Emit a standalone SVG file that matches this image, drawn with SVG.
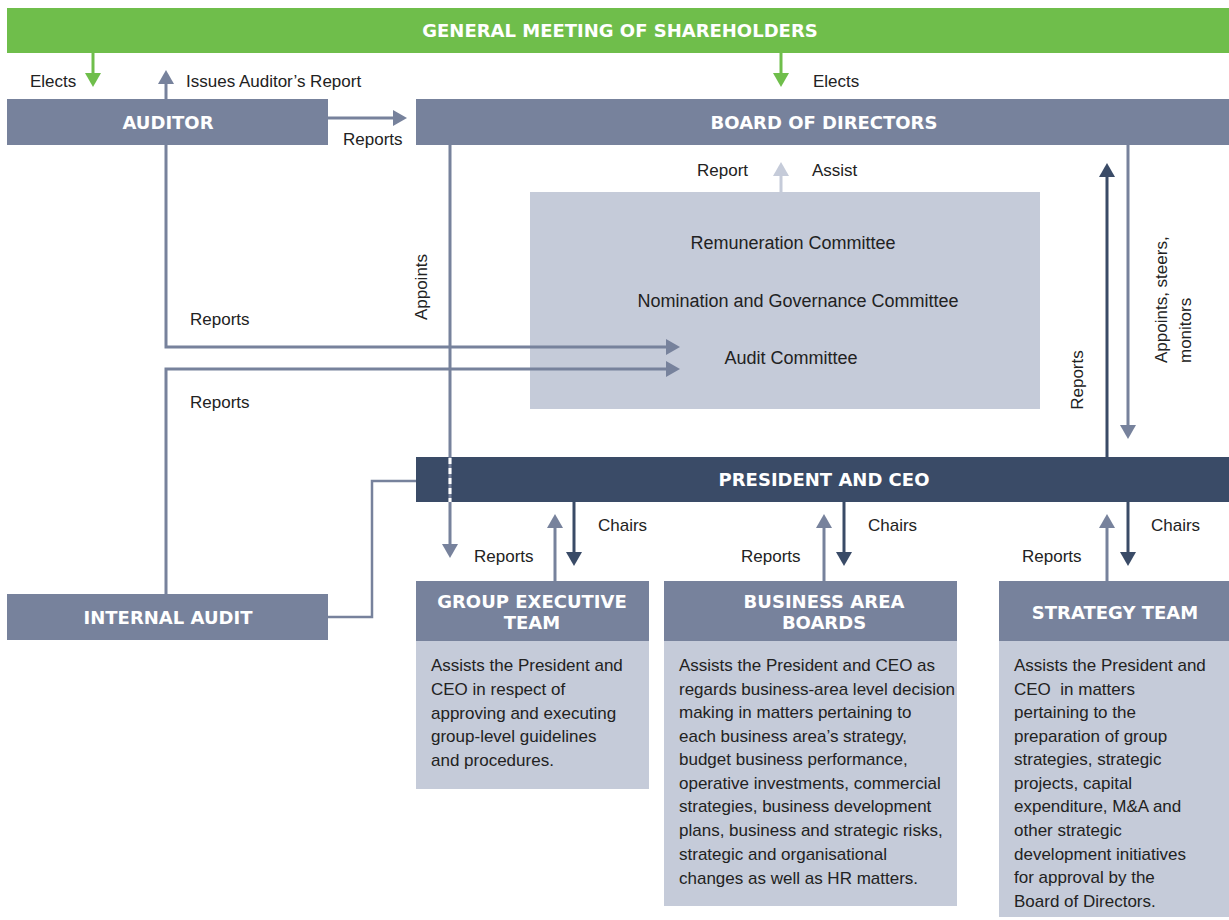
<svg xmlns="http://www.w3.org/2000/svg" width="1229" height="920" viewBox="0 0 1229 920">
<style>
.hd{font-family:"DejaVu Sans",sans-serif;font-weight:bold;font-size:18px;fill:#fff;text-anchor:middle}
.tx{font-family:"Liberation Sans",Arial,sans-serif;font-size:17px;fill:#222}
.cm{font-size:18px}
.mid{text-anchor:middle}
.slate{fill:#77829c}
.navy{fill:#3a4b67}
.light{fill:#c5cbd9}
.green{fill:#6fbe4b}
.c{fill:none;stroke-width:3}
</style>
<defs>
<marker id="mg" viewBox="0 0 14 16" markerWidth="14" markerHeight="16" refX="6" refY="8" orient="auto" markerUnits="userSpaceOnUse"><path d="M0,0 L14,8 L0,16 z" fill="#6fbe4b"/></marker>
<marker id="ms" viewBox="0 0 14 16" markerWidth="14" markerHeight="16" refX="6" refY="8" orient="auto" markerUnits="userSpaceOnUse"><path d="M0,0 L14,8 L0,16 z" fill="#77829c"/></marker>
<marker id="mn" viewBox="0 0 14 16" markerWidth="14" markerHeight="16" refX="6" refY="8" orient="auto" markerUnits="userSpaceOnUse"><path d="M0,0 L14,8 L0,16 z" fill="#3a4b67"/></marker>
<marker id="ml" viewBox="0 0 14 16" markerWidth="14" markerHeight="16" refX="6" refY="8" orient="auto" markerUnits="userSpaceOnUse"><path d="M0,0 L14,8 L0,16 z" fill="#c5cbd9"/></marker>
</defs>
<rect width="1229" height="920" fill="#fff"/>

<g id="shareholders">
<rect class="green" x="7" y="8" width="1222" height="45"/>
<text class="hd" x="620" y="37">GENERAL MEETING OF SHAREHOLDERS</text>
</g>
<g id="auditor">
<rect class="slate" x="7" y="99" width="321" height="46"/>
<text class="hd" x="168" y="129">AUDITOR</text>
</g>
<g id="board">
<rect class="slate" x="416" y="99" width="813" height="46"/>
<text class="hd" x="824" y="129">BOARD OF DIRECTORS</text>
</g>
<g id="committees">
<rect class="light" x="530" y="192" width="510" height="217"/>
<text class="tx cm mid" x="793" y="249">Remuneration Committee</text>
<text class="tx cm mid" x="798" y="307">Nomination and Governance Committee</text>
<text class="tx cm mid" x="791" y="364">Audit Committee</text>
</g>
<g id="ceo">
<rect class="navy" x="416" y="457" width="813" height="45"/>
<text class="hd" x="824" y="486">PRESIDENT AND CEO</text>
</g>
<g id="internal-audit">
<rect class="slate" x="7" y="594" width="321" height="46"/>
<text class="hd" x="168" y="624">INTERNAL AUDIT</text>
</g>
<g id="group-executive-team">
<rect class="slate" x="416" y="581" width="233" height="60"/>
<text class="hd" x="532" y="608">GROUP EXECUTIVE</text>
<text class="hd" x="532" y="629">TEAM</text>
<rect class="light" x="416" y="641" width="233" height="148"/>
<text class="tx" x="431" y="671">Assists the President and</text>
<text class="tx" x="431" y="695">CEO in respect of</text>
<text class="tx" x="431" y="719">approving and executing</text>
<text class="tx" x="431" y="742">group-level guidelines</text>
<text class="tx" x="431" y="766">and procedures.</text>
</g>
<g id="business-area-boards">
<rect class="slate" x="664" y="581" width="293" height="60"/>
<text class="hd" x="824" y="608">BUSINESS AREA</text>
<text class="hd" x="824" y="629">BOARDS</text>
<rect class="light" x="664" y="641" width="293" height="265"/>
<text class="tx" x="679" y="671">Assists the President and CEO as</text>
<text class="tx" x="679" y="695">regards business-area level decision</text>
<text class="tx" x="679" y="718">making in matters pertaining to</text>
<text class="tx" x="679" y="742">each business area’s strategy,</text>
<text class="tx" x="679" y="765">budget business performance,</text>
<text class="tx" x="679" y="789">operative investments, commercial</text>
<text class="tx" x="679" y="812">strategies, business development</text>
<text class="tx" x="679" y="836">plans, business and strategic risks,</text>
<text class="tx" x="679" y="860">strategic and organisational</text>
<text class="tx" x="679" y="884">changes as well as HR matters.</text>
</g>
<g id="strategy-team">
<rect class="slate" x="999" y="581" width="230" height="60"/>
<text class="hd" x="1115" y="619">STRATEGY TEAM</text>
<rect class="light" x="999" y="641" width="230" height="276"/>
<text class="tx" x="1014" y="671">Assists the President and</text>
<text class="tx" x="1014" y="695" xml:space="preserve">CEO  in matters</text>
<text class="tx" x="1014" y="718">pertaining to the</text>
<text class="tx" x="1014" y="742">preparation of group</text>
<text class="tx" x="1014" y="765">strategies, strategic</text>
<text class="tx" x="1014" y="789">projects, capital</text>
<text class="tx" x="1014" y="812">expenditure, M&amp;A and</text>
<text class="tx" x="1014" y="836">other strategic</text>
<text class="tx" x="1014" y="860">development initiatives</text>
<text class="tx" x="1014" y="883">for approval by the</text>
<text class="tx" x="1014" y="907">Board of Directors.</text>
</g>

<g id="connectors">
<path class="c" stroke="#6fbe4b" d="M93,53 V79" marker-end="url(#mg)"/>
<path class="c" stroke="#6fbe4b" d="M781,53 V79" marker-end="url(#mg)"/>
<path class="c" stroke="#77829c" d="M166,99 V78" marker-end="url(#ms)"/>
<path class="c" stroke="#77829c" d="M328,118 H399" marker-end="url(#ms)"/>
<path class="c" stroke="#77829c" d="M166,145 V347 H672" marker-end="url(#ms)"/>
<path class="c" stroke="#77829c" d="M166,594 V369 H672" marker-end="url(#ms)"/>
<path class="c" stroke="#77829c" d="M450,145 V550" marker-end="url(#ms)"/>
<path fill="none" stroke="#fff" stroke-width="3" stroke-dasharray="6,4" d="M450,458 V502"/>
<path class="c" stroke="#c5cbd9" d="M781,192 V170" marker-end="url(#ml)"/>
<path class="c" stroke="#3a4b67" d="M1107,457 V171" marker-end="url(#mn)"/>
<path class="c" stroke="#77829c" d="M1128,145 V431" marker-end="url(#ms)"/>
<path fill="none" stroke="#77829c" stroke-width="2.5" d="M328,617 H372 V481 H416"/>
<path class="c" stroke="#77829c" d="M555,581 V522" marker-end="url(#ms)"/>
<path class="c" stroke="#3a4b67" d="M574,502 V558" marker-end="url(#mn)"/>
<path class="c" stroke="#77829c" d="M824,581 V522" marker-end="url(#ms)"/>
<path class="c" stroke="#3a4b67" d="M844,502 V558" marker-end="url(#mn)"/>
<path class="c" stroke="#77829c" d="M1107,581 V522" marker-end="url(#ms)"/>
<path class="c" stroke="#3a4b67" d="M1128,502 V558" marker-end="url(#mn)"/>

<text class="tx" x="30" y="87">Elects</text>
<text class="tx" x="186" y="87">Issues Auditor’s Report</text>
<text class="tx" x="343" y="145">Reports</text>
<text class="tx" x="813" y="87">Elects</text>
<text class="tx" x="697" y="176">Report</text>
<text class="tx" x="812" y="176">Assist</text>
<text class="tx mid" transform="translate(427,287) rotate(-90)">Appoints</text>
<text class="tx" x="190" y="325">Reports</text>
<text class="tx" x="190" y="408">Reports</text>
<text class="tx mid" transform="translate(1083,380) rotate(-90)">Reports</text>
<text class="tx" transform="translate(1167,363) rotate(-90)">Appoints, steers,</text>
<text class="tx" transform="translate(1191,363) rotate(-90)">monitors</text>
<text class="tx" x="598" y="531">Chairs</text>
<text class="tx" x="474" y="562">Reports</text>
<text class="tx" x="868" y="531">Chairs</text>
<text class="tx" x="741" y="562">Reports</text>
<text class="tx" x="1151" y="531">Chairs</text>
<text class="tx" x="1022" y="562">Reports</text>
</g>
</svg>
